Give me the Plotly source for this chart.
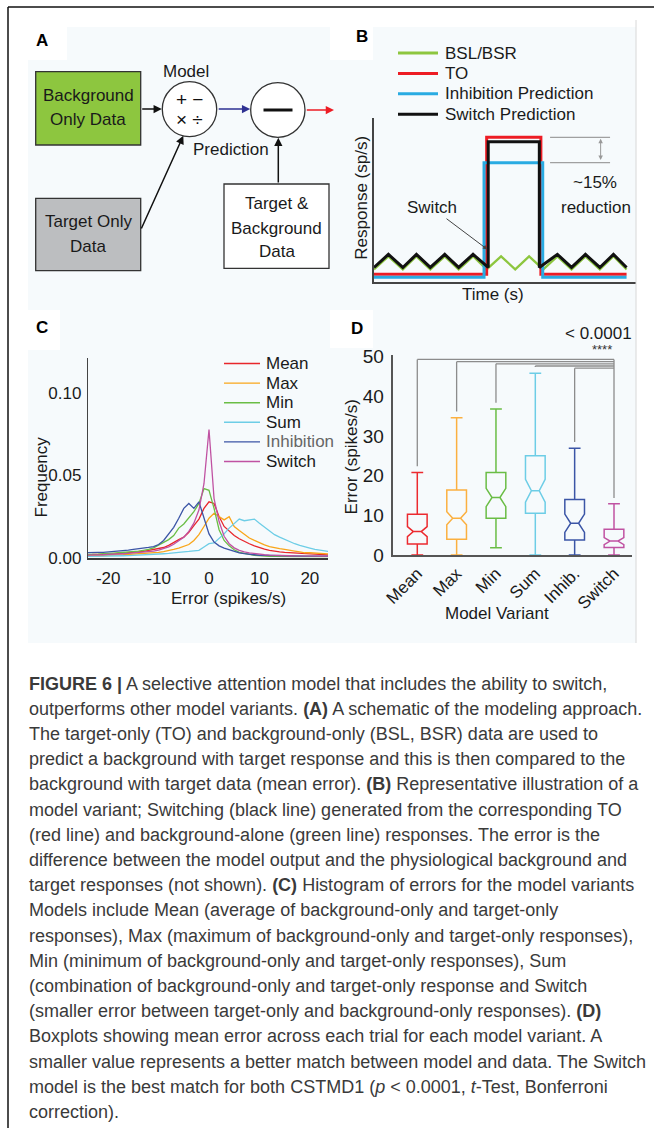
import plotly.graph_objects as go

W, H = 654, 1128
FONT = "Liberation Sans, Arial, sans-serif"

# ---------------- Panel C data (histogram of errors) ----------------
err_bins = list(range(-25, 26))
freq_mean = [0.0015, 0.0015, 0.002, 0.0018, 0.002, 0.002, 0.0022, 0.0025, 0.0025, 0.003,
             0.003, 0.0035, 0.0038, 0.0045, 0.005, 0.0055, 0.0062, 0.0075, 0.009, 0.011,
             0.0125, 0.0155, 0.0195, 0.0235, 0.030, 0.034, 0.033, 0.025, 0.019, 0.016,
             0.0135, 0.0115, 0.0098, 0.0085, 0.0072, 0.006, 0.0052, 0.0045, 0.0038, 0.0035,
             0.0032, 0.003, 0.0028, 0.0025, 0.0022, 0.002, 0.002, 0.0018, 0.0016, 0.0015, 0.0015]
freq_max = [0.001, 0.0012, 0.001, 0.0013, 0.0012, 0.0015, 0.0015, 0.0017, 0.0018, 0.002,
            0.002, 0.0022, 0.0025, 0.0027, 0.003, 0.0033, 0.0037, 0.0042, 0.005, 0.0058,
            0.0067, 0.008, 0.0105, 0.014, 0.019, 0.024, 0.027, 0.025, 0.023, 0.025,
            0.019, 0.0165, 0.014, 0.012, 0.0105, 0.009, 0.0078, 0.0068, 0.006, 0.0055,
            0.005, 0.0047, 0.004, 0.0035, 0.003, 0.003, 0.0028, 0.0025, 0.0022, 0.002, 0.002]
freq_min = [0.002, 0.002, 0.0022, 0.0022, 0.0025, 0.0025, 0.0028, 0.003, 0.0032, 0.0035,
            0.0037, 0.004, 0.0045, 0.005, 0.006, 0.0075, 0.0095, 0.011, 0.0135, 0.018,
            0.0205, 0.024, 0.028, 0.033, 0.042, 0.041, 0.030, 0.017, 0.0105, 0.0072,
            0.0048, 0.0032, 0.0024, 0.002, 0.0015, 0.0012, 0.001, 0.0008, 0.0008, 0.0007,
            0.0008, 0.0007, 0.0007, 0.0008, 0.0007, 0.0006, 0.0007, 0.0006, 0.0006, 0.0006, 0.0006]
freq_sum = [0.0008, 0.0008, 0.0009, 0.0008, 0.001, 0.001, 0.0011, 0.0012, 0.0012, 0.0013,
            0.0014, 0.0015, 0.0016, 0.0018, 0.002, 0.0022, 0.0024, 0.0026, 0.0028, 0.003,
            0.0035, 0.0038, 0.0042, 0.0045, 0.0065, 0.0085, 0.009, 0.0115, 0.0145, 0.018,
            0.021, 0.0235, 0.0225, 0.023, 0.0235, 0.021, 0.0185, 0.016, 0.014, 0.0125,
            0.011, 0.0095, 0.0085, 0.0075, 0.0065, 0.0058, 0.005, 0.0045, 0.004, 0.0035, 0.0032]
freq_inhib = [0.003, 0.003, 0.0028, 0.0032, 0.0033, 0.0035, 0.0037, 0.004, 0.0042, 0.0046,
              0.005, 0.0053, 0.0058, 0.0063, 0.0068, 0.008, 0.0105, 0.0145, 0.0185, 0.024,
              0.030, 0.033, 0.030, 0.034, 0.024, 0.0145, 0.0095, 0.0072, 0.0058, 0.0048,
              0.004, 0.003, 0.0025, 0.002, 0.0018, 0.0015, 0.0014, 0.0013, 0.0012, 0.0012,
              0.0011, 0.0011, 0.001, 0.001, 0.001, 0.001, 0.001, 0.001, 0.001, 0.001, 0.001]
freq_switch = [0.0015, 0.0015, 0.0016, 0.0017, 0.0018, 0.002, 0.002, 0.0022, 0.0024, 0.0026,
               0.0028, 0.003, 0.0033, 0.0036, 0.004, 0.0046, 0.0055, 0.0066, 0.0082, 0.0102,
               0.0125, 0.016, 0.021, 0.029, 0.045, 0.078, 0.036, 0.022, 0.013, 0.0085,
               0.006, 0.0045, 0.0035, 0.003, 0.0025, 0.0021, 0.0018, 0.0016, 0.0014, 0.0013,
               0.0012, 0.0012, 0.0011, 0.0011, 0.001, 0.001, 0.001, 0.001, 0.001, 0.001, 0.001]
hist_names = ["Mean", "Max", "Min", "Sum", "Inhibition", "Switch"]
hist_colors = ["#e8262b", "#f9a61a", "#6abd45", "#6dcde6", "#3b55a6", "#c052a2"]
hist_label_colors = ["#1a1a1a", "#1a1a1a", "#1a1a1a", "#1a1a1a", "#666666", "#1a1a1a"]
hist_series = [freq_mean, freq_max, freq_min, freq_sum, freq_inhib, freq_switch]
c_xticks = [-20, -10, 0, 10, 20]
c_xticklabels = ["-20", "-10", "0", "10", "20"]
c_yticks = [0.0, 0.05, 0.10]
c_yticklabels = ["0.00", "0.05", "0.10"]

# ---------------- Panel D data (boxplots) ----------------
variants = ["Mean", "Max", "Min", "Sum", "Inhib.", "Switch"]
box_colors = ["#ec2a2f", "#fbb040", "#6abd45", "#6dcde6", "#3b55a6", "#c052a2"]
whisker_lo = [0.0, 0.0, 1.85, 0.0, 0.0, 0.0]
q1 = [2.8, 4.0, 9.25, 10.5, 3.8, 1.9]
median = [5.9, 9.25, 14.5, 16.2, 8.0, 3.5]
q3 = [10.3, 16.4, 20.8, 25.0, 14.0, 6.5]
whisker_hi = [20.8, 34.6, 36.8, 45.8, 26.9, 12.9]
notch_half = [1.25, 1.65, 2.3, 2.9, 2.3, 0.9]
d_yticks = [0, 10, 20, 30, 40, 50]
p_text = "&lt; 0.0001"
stars = "****"

# ---------------- Panel B data (schematic responses) ----------------
bsl_t = [0, 5.5, 11, 16.2, 21.5, 27, 32.3, 37.8, 43, 48.5, 53.9, 59.2, 64.6, 70, 75.4, 80.7, 86.2, 91.4, 96.4]
bsl_r = [7.5, 15.5, 7.5, 15.5, 7.5, 15.5, 7.5, 15.5, 7.5, 15.5, 7.5, 15.5, 7.5, 15.5, 7.5, 15.5, 7.5, 15.5, 7.5]
to_t = [0, 43.0, 43.0, 63.7, 63.7, 96.4]
to_r = [4.5, 4.5, 88.2, 88.2, 4.5, 4.5]
inh_t = [0, 42.0, 42.0, 64.4, 64.4, 96.4]
inh_r = [2.7, 2.7, 72.7, 72.7, 2.7, 2.7]
sw_t = [0, 5.5, 11, 16.2, 21.5, 27, 32.3, 37.8, 43.6, 43.6, 63.1, 63.1, 70, 75.4, 80.7, 86.2, 91.4, 96.4]
sw_r = [8.7, 16.7, 8.7, 16.7, 8.7, 16.7, 8.7, 16.7, 8.7, 85.5, 85.5, 8.7, 16.7, 8.7, 16.7, 8.7, 16.7, 8.7]
b_names = ["BSL/BSR", "TO", "Inhibition Prediction", "Switch Prediction"]
b_colors = ["#8dc63f", "#ed1c24", "#29abe2", "#111111"]
b_widths = [2.2, 3, 3, 3]
b_series = [(bsl_t, bsl_r), (to_t, to_r), (inh_t, inh_r), (sw_t, sw_r)]

# ---------------- Caption ----------------
caption_lines = [
    "<b>FIGURE 6</b> <b>|</b> A selective attention model that includes the ability to switch,",
    "outperforms other model variants. <b>(A)</b> A schematic of the modeling approach.",
    "The target-only (TO) and background-only (BSL, BSR) data are used to",
    "predict a background with target response and this is then compared to the",
    "background with target data (mean error). <b>(B)</b> Representative illustration of a",
    "model variant; Switching (black line) generated from the corresponding TO",
    "(red line) and background-alone (green line) responses. The error is the",
    "difference between the model output and the physiological background and",
    "target responses (not shown). <b>(C)</b> Histogram of errors for the model variants",
    "Models include Mean (average of background-only and target-only",
    "responses), Max (maximum of background-only and target-only responses),",
    "Min (minimum of background-only and target-only responses), Sum",
    "(combination of background-only and target-only response and Switch",
    "(smaller error between target-only and background-only responses). <b>(D)</b>",
    "Boxplots showing mean error across each trial for each model variant. A",
    "smaller value represents a better match between model and data. The Switch",
    "model is the best match for both CSTMD1 (<i>p</i> &lt; 0.0001, <i>t</i>-Test, Bonferroni",
    "correction).",
]


def px(x):
    return x / W


def py(y):
    return 1 - y / H


fig = go.Figure()

# Panel C traces
for name, col, ys in zip(hist_names, hist_colors, hist_series):
    fig.add_trace(go.Scatter(x=err_bins, y=ys, mode="lines", name=name,
                             line=dict(color=col, width=1.3), xaxis="x", yaxis="y", showlegend=False))

# Panel D boxes
for i, v in enumerate(variants):
    fig.add_trace(go.Box(x=[v], q1=[q1[i]], median=[median[i]], q3=[q3[i]],
                         lowerfence=[whisker_lo[i]], upperfence=[whisker_hi[i]],
                         notchspan=[notch_half[i]], notched=True, notchwidth=0.3,
                         width=0.5, whiskerwidth=0.6, boxpoints=False, name=v,
                         line=dict(color=box_colors[i], width=1.5),
                         fillcolor="rgba(0,0,0,0)", showlegend=False,
                         xaxis="x2", yaxis="y2", hoverinfo="skip"))

# Panel B traces
for name, col, lw, (tt, rr) in zip(b_names, b_colors, b_widths, b_series):
    fig.add_trace(go.Scatter(x=tt, y=rr, mode="lines", name=name,
                             line=dict(color=col, width=lw), xaxis="x3", yaxis="y3", showlegend=False))

shapes = []
annotations = []

# background tint and frame
shapes.append(dict(type="rect", xref="paper", yref="paper", x0=px(28), x1=px(636), y0=py(643), y1=py(27),
                   fillcolor="#f6fafc", line=dict(width=0), layer="below"))
for (x0, x1, y0, y1) in [(28, 67, 27, 60), (330, 373, 20, 60), (28, 60, 310, 350), (330, 373, 310, 348)]:
    shapes.append(dict(type="rect", xref="paper", yref="paper", x0=px(x0), x1=px(x1), y0=py(y1), y1=py(y0),
                       fillcolor="white", line=dict(width=0), layer="below"))
shapes.append(dict(type="line", xref="paper", yref="paper", x0=px(636), x1=px(636), y0=py(643), y1=py(20),
                   line=dict(color="#d8d8d8", width=1)))
shapes.append(dict(type="line", xref="paper", yref="paper", x0=px(8), x1=px(8), y0=0, y1=py(7),
                   line=dict(color="#111", width=1.5)))
shapes.append(dict(type="line", xref="paper", yref="paper", x0=px(8), x1=1, y0=py(7), y1=py(7),
                   line=dict(color="#111", width=1.5)))


def txt(x, y, s, size=17, color="#1a1a1a", xanchor="center", angle=0, bold=False):
    annotations.append(dict(x=px(x), y=py(y), xref="paper", yref="paper", text=(f"<b>{s}</b>" if bold else s),
                            showarrow=False, xanchor=xanchor, yanchor="middle", textangle=angle,
                            font=dict(family=FONT, size=size, color=color)))


def arrow(x0, y0, x1, y1, color="#111", width=1.5, size=1.1):
    annotations.append(dict(x=px(x1), y=py(y1), xref="paper", yref="paper", ax=x0 - x1, ay=y0 - y1,
                            axref="pixel", ayref="pixel", text="", showarrow=True, arrowhead=2,
                            arrowsize=size, arrowwidth=width, arrowcolor=color, standoff=0))


def seg(x0, y0, x1, y1, color, width):
    shapes.append(dict(type="line", xref="paper", yref="paper", x0=px(x0), x1=px(x1), y0=py(y0), y1=py(y1),
                       line=dict(color=color, width=width)))


# panel labels
txt(41.7, 40, "A", 17, "#000", bold=True)
txt(361.7, 37, "B", 17, "#000", bold=True)
txt(41.7, 327, "C", 17, "#000", bold=True)
txt(356.7, 328.5, "D", 17, "#000", bold=True)

# ---------------- Panel A schematic ----------------
shapes.append(dict(type="rect", xref="paper", yref="paper", x0=px(35.7), x1=px(140.7), y0=py(145), y1=py(71.7),
                   fillcolor="#8dc63f", line=dict(color="#333", width=1.3)))
shapes.append(dict(type="rect", xref="paper", yref="paper", x0=px(35.7), x1=px(140.7), y0=py(270.7), y1=py(198.3),
                   fillcolor="#bcbec0", line=dict(color="#333", width=1.3)))
shapes.append(dict(type="rect", xref="paper", yref="paper", x0=px(224), x1=px(329), y0=py(268.3), y1=py(184),
                   fillcolor="white", line=dict(color="#333", width=1.3)))
shapes.append(dict(type="circle", xref="paper", yref="paper", x0=px(162.3), x1=px(216.7), y0=py(136.7), y1=py(81.7),
                   fillcolor="white", line=dict(color="#333", width=1.3)))
shapes.append(dict(type="circle", xref="paper", yref="paper", x0=px(250.7), x1=px(305), y0=py(137.3), y1=py(82.7),
                   fillcolor="white", line=dict(color="#333", width=1.3)))
seg(263.5, 110, 292.5, 110, "#111", 3)

txt(88.2, 95, "Background")
txt(88.2, 119.5, "Only Data")
txt(88.2, 221.7, "Target Only")
txt(88.2, 246, "Data")
txt(276.5, 203.3, "Target &amp;")
txt(276.5, 228.3, "Background")
txt(276.5, 251.7, "Data")
txt(185.5, 71.7, "Model")
txt(230.8, 149.3, "Prediction")
txt(189.5, 99.5, "+ \u2212", 19, "#111")
txt(189.5, 119.5, "\u00d7 \u00f7", 19, "#111")

arrow(140.7, 109, 161.8, 109)
arrow(140.7, 230, 183.3, 135.8)
arrow(217.2, 109, 250.2, 109, color="#2e3192")
arrow(305.3, 110, 334, 110, color="#ed1c24")
arrow(278.3, 184, 278.3, 137.8)

# ---------------- Panel B annotations & legend ----------------
for k, (name, col, lw) in enumerate(zip(b_names, b_colors, b_widths)):
    yy = 53 + 20.4 * k
    seg(398, yy, 438, yy, col, 3)
    txt(443, yy, name, 17, xanchor="left")
txt(361.7, 198, "Response (sp/s)", 17, angle=-90)
txt(493, 294.5, "Time (s)", 17)
annotations.append(dict(x=sw_t[8] - 0.3, y=sw_r[8] + 11, xref="x3", yref="y3", ax=22.1, ay=45.2,
                        axref="x3", ayref="y3", text="Switch", showarrow=True, arrowhead=2, arrowsize=0.9,
                        arrowwidth=1, arrowcolor="#444", standoff=0,
                        font=dict(family=FONT, size=17, color="#1a1a1a")))
for lvl in [max(to_r), max(inh_r)]:
    shapes.append(dict(type="line", xref="x3", yref="y3", x0=67.2, x1=90.1, y0=lvl, y1=lvl,
                       line=dict(color="#a0a0a0", width=1.2)))
annotations.append(dict(x=86.5, y=max(to_r) - 0.8, xref="x3", yref="y3", ax=86.5, ay=max(inh_r) + 0.8,
                        axref="x3", ayref="y3", text="", showarrow=True, arrowhead=2, startarrowhead=2,
                        arrowside="end+start", arrowsize=0.9, arrowwidth=1, arrowcolor="#999", standoff=0,
                        startstandoff=0))
annotations.append(dict(x=84.5, y=60.3, xref="x3", yref="y3", text="~15%", showarrow=False,
                        font=dict(family=FONT, size=17, color="#1a1a1a")))
annotations.append(dict(x=84.8, y=45.6, xref="x3", yref="y3", text="reduction", showarrow=False,
                        font=dict(family=FONT, size=17, color="#1a1a1a")))

# ---------------- Panel C annotations & legend ----------------
for k, (name, col, tc) in enumerate(zip(hist_names, hist_colors, hist_label_colors)):
    yy = 363.5 + 19.6 * k
    seg(224, yy, 260, yy, col, 1.4)
    txt(264, yy, name, 17, tc, xanchor="left")
txt(40.5, 477, "Frequency", 17, angle=-90)
txt(228, 598.5, "Error (spikes/s)", 17)

# ---------------- Panel D annotations ----------------
txt(351.7, 456.7, "Error (spikes/s)", 17, angle=-90)
txt(496.7, 613.5, "Model Variant", 17)
levels = [49.3 - 0.55 * i for i in range(5)]
for i in range(5):
    shapes.append(dict(type="line", xref="x2", yref="y2", x0=i, x1=i, y0=whisker_hi[i] + 1.6, y1=levels[i],
                       line=dict(color="#8c8c8c", width=1.3)))
    shapes.append(dict(type="line", xref="x2", yref="y2", x0=i, x1=5, y0=levels[i], y1=levels[i],
                       line=dict(color="#8c8c8c", width=1.3)))
shapes.append(dict(type="line", xref="x2", yref="y2", x0=5, x1=5, y0=whisker_hi[5] + 1.5, y1=levels[0],
                   line=dict(color="#8c8c8c", width=1.3)))
txt(602, 349, stars, 13, "#333")
txt(598.5, 333, p_text, 17)

# ---------------- Caption ----------------
for k, line in enumerate(caption_lines):
    annotations.append(dict(x=px(27), y=py(683.5 + 25.2 * k), xref="paper", yref="paper", text=line,
                            showarrow=False, xanchor="left", yanchor="middle",
                            font=dict(family=FONT, size=18, color="#3a3a3a")))

axis_font = dict(family=FONT, size=17, color="#1a1a1a")
fig.update_layout(
    width=W, height=H, autosize=False, margin=dict(l=0, r=0, t=0, b=0, pad=0, autoexpand=False),
    paper_bgcolor="white", plot_bgcolor="rgba(0,0,0,0)",
    font=dict(family=FONT, size=16, color="#1a1a1a"),
    xaxis=dict(domain=[px(88), px(328)], range=[-24, 23.6], tickvals=c_xticks, ticktext=c_xticklabels,
               showgrid=False, zeroline=False, automargin=False,
               showline=True, linecolor="#3a3a3a", linewidth=2.2, ticks="", tickfont=axis_font, ticklabelstandoff=4,
               anchor="y"),
    yaxis=dict(domain=[py(557.7), py(358)], range=[0, 0.1215], tickvals=c_yticks, ticktext=c_yticklabels,
               showgrid=False, zeroline=False, showline=True, linecolor="#444", linewidth=1.3, ticks="",
               tickfont=axis_font, ticklabelstandoff=2, anchor="x", automargin=False),
    xaxis2=dict(domain=[px(392.7), px(631.7)], range=[-0.625, 5.45], type="category", showgrid=False,
                zeroline=False, showline=True, linecolor="#555", linewidth=2, ticks="", tickangle=-45,
                tickfont=axis_font, anchor="y2", automargin=False),
    yaxis2=dict(domain=[py(555), py(354.7)], range=[0, 50.5], tickvals=d_yticks, showgrid=False,
                zeroline=False, showline=True, linecolor="#555", linewidth=2, ticks="",
                tickfont=dict(family=FONT, size=19, color="#1a1a1a"),
                ticklabelstandoff=3, anchor="x2", automargin=False),
    xaxis3=dict(domain=[px(374), px(636)], range=[0, 100], showgrid=False, zeroline=False, showline=True,
                linecolor="#444", linewidth=1.5, showticklabels=False, ticks="", anchor="y3", automargin=False),
    yaxis3=dict(domain=[py(281.7), py(118)], range=[0, 100], showgrid=False, zeroline=False, showline=True,
                linecolor="#444", linewidth=1.5, showticklabels=False, ticks="", anchor="x3", automargin=False),
    shapes=shapes, annotations=annotations, showlegend=False,
)

fig.write_html("out.html", config={"displayModeBar": False},
               post_script="document.body.style.margin='0px';document.body.style.padding='0px';")
